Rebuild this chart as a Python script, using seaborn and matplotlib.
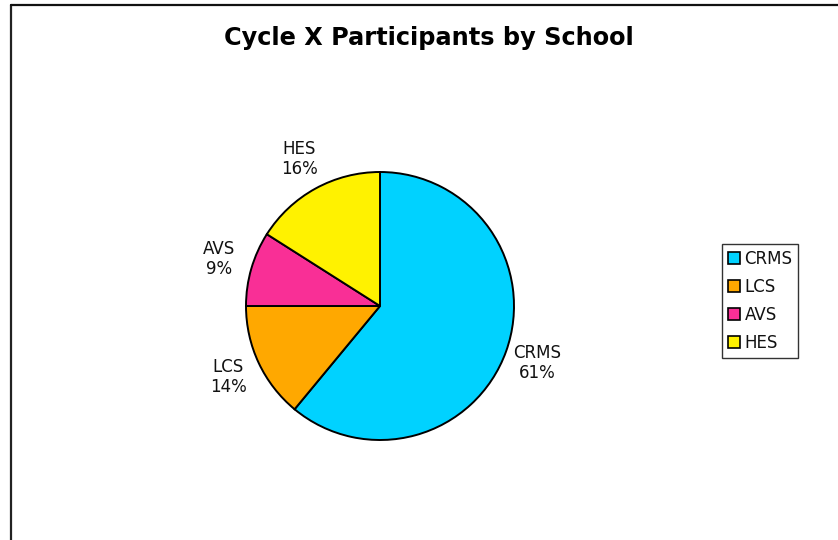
import matplotlib
matplotlib.use("Agg")
import matplotlib.pyplot as plt
import matplotlib.patches as mpatches
from matplotlib.lines import Line2D
import seaborn as sns

# data
schools = ["CRMS", "LCS", "AVS", "HES"]
shares = [61, 14, 9, 16]
colors = ["#00D2FF", "#FFA800", "#F92F96", "#FFF200"]

sns.set_style("white")
plt.rcParams['font.family'] = ['DejaVu Sans']
plt.rcParams['text.color'] = 'black'

fig = plt.figure(figsize=(8.38, 5.4), dpi=100)

# outer chart border: only the left and top edges are inside the image
left_x = 10.5 / 838
top_y = 1 - 5 / 540
fig.add_artist(Line2D([left_x, left_x], [0, top_y], transform=fig.transFigure,
                      color="#222222", linewidth=1.6))
fig.add_artist(Line2D([left_x, 1], [top_y, top_y], transform=fig.transFigure,
                      color="#111111", linewidth=1.6))

fig.text(428.5 / 838, 1 - 38 / 540, "Cycle X Participants by School",
         ha="center", va="center", fontsize=17.3, fontweight="bold", color="black")

ax = fig.add_axes([246 / 838, 100 / 540, 268 / 838, 268 / 540])
labels = [f"{s}\n{v}%" for s, v in zip(schools, shares)]
wedges, texts = ax.pie(shares, labels=labels, colors=colors, startangle=90,
                       counterclock=False, labeldistance=1.25,
                       wedgeprops=dict(edgecolor="black", linewidth=1.4),
                       textprops=dict(fontsize=12, color="#111111"))
for t in texts:
    t.set_ha("center")
    t.set_linespacing(1.15)
ax.set_xlim(-1, 1)
ax.set_ylim(-1, 1)
ax.set_aspect("equal")
ax.axis("off")

handles = [mpatches.Patch(facecolor=c, edgecolor="black", linewidth=1.2) for c in colors]
leg = fig.legend(handles, schools, loc="upper left",
                 bbox_to_anchor=(722 / 838, 1 - 244 / 540), borderaxespad=0,
                 fancybox=False, frameon=True, fontsize=12,
                 handlelength=0.75, handleheight=0.75, handletextpad=0.25,
                 labelspacing=0.6, borderpad=0.35)
leg.get_frame().set_edgecolor("black")
leg.get_frame().set_linewidth(1.0)
for t in leg.get_texts():
    t.set_color("#111111")

fig.savefig("out.png", dpi=100)
